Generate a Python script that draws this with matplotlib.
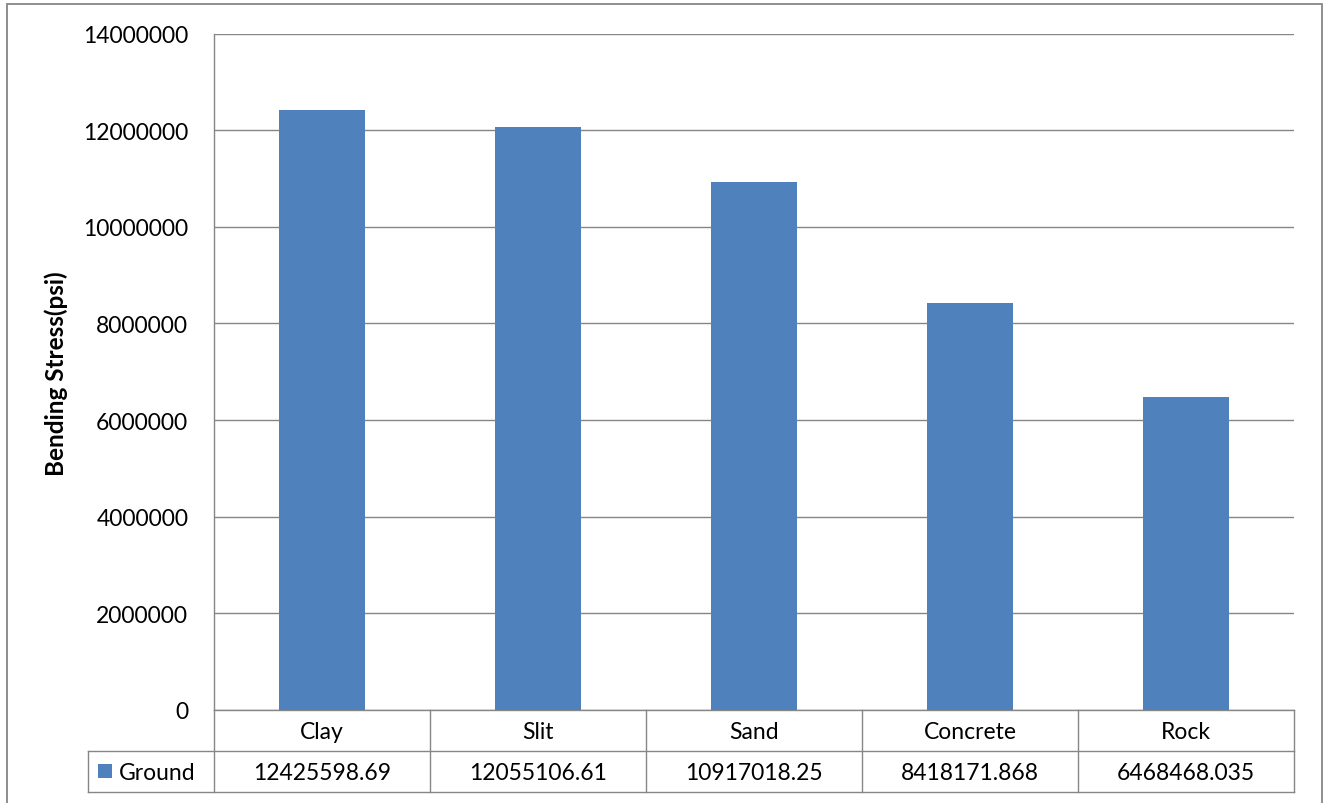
import matplotlib
matplotlib.use("Agg")
import matplotlib.pyplot as plt
from matplotlib.patches import Rectangle
from matplotlib.lines import Line2D
from matplotlib.transforms import blended_transform_factory
import numpy as np

# Bending stress per ground type
categories = ["Clay", "Slit", "Sand", "Concrete", "Rock"]
stress = [12425598.69, 12055106.61, 10917018.25, 8418171.868, 6468468.035]
value_labels = ["12425598.69", "12055106.61", "10917018.25", "8418171.868", "6468468.035"]
series_name = "Ground"
y_ticks = [0, 2000000, 4000000, 6000000, 8000000, 10000000, 12000000, 14000000]

W, H = 1327, 804
DPI = 100
BAR = "#4F81BD"
GRID = "#868686"

plt.rcParams["font.family"] = ["Lato", "DejaVu Sans"]

fig = plt.figure(figsize=(W / DPI, H / DPI), dpi=DPI)

# plot area in pixel units
px_left, px_right, px_top, px_bottom = 214, 1294, 34.5, 711
ax = fig.add_axes([px_left / W, (H - px_bottom) / H,
                   (px_right - px_left) / W, (px_bottom - px_top) / H])

x = np.arange(len(categories))
ax.bar(x, stress, width=0.4, color=BAR, zorder=3)
ax.set_xlim(-0.5, len(categories) - 0.5)
ax.set_ylim(0, 14000000)
ax.set_yticks(y_ticks)
ax.set_yticklabels([str(v) for v in y_ticks], fontsize=16.5)
ax.set_xticks([])
ax.tick_params(axis="y", length=0, pad=18.5)
ax.yaxis.grid(True, color=GRID, linewidth=1.0, zorder=0)
ax.set_axisbelow(True)
for s in ("top", "right"):
    ax.spines[s].set_visible(False)
for s in ("left", "bottom"):
    ax.spines[s].set_color(GRID)
    ax.spines[s].set_linewidth(1.0)

def fy(py):
    return (H - py) / H

tf = fig.transFigure
tr = blended_transform_factory(ax.transData, tf)

# axis title
fig.text(56 / W, fy(374), "Bending Stress(psi)", transform=tf, rotation=90,
         ha="center", va="center", fontsize=17.5, fontweight="bold")

# data table under the plot: x in data units, y in pixels from figure top
row1_top, row1_bot, row2_bot = 711, 752, 793
legend_left = 88

def hline(x0, x1, py, trans):
    fig.add_artist(Line2D([x0, x1], [fy(py), fy(py)], transform=trans,
                          color=GRID, linewidth=1.0))

def vline(xv, py0, py1, trans):
    fig.add_artist(Line2D([xv, xv], [fy(py0), fy(py1)], transform=trans,
                          color=GRID, linewidth=1.0))

# horizontal rules
hline(legend_left / W, px_right / W, row1_bot, tf)
hline(legend_left / W, px_right / W, row2_bot, tf)
# vertical rules between categories
for b in np.arange(-0.5, len(categories), 1.0):
    vline(b, row1_top, row2_bot, tr)
vline(legend_left / W, row1_bot, row2_bot, tf)

for xi, cat, lab in zip(x, categories, value_labels):
    fig.text(xi, fy((row1_top + row1_bot) / 2 + 1), cat, transform=tr,
             ha="center", va="center", fontsize=16.5)
    fig.text(xi, fy((row1_bot + row2_bot) / 2 + 1), lab, transform=tr,
             ha="center", va="center", fontsize=16.5)

# legend key for the series
fig.add_artist(Rectangle((98 / W, fy(779)), 14 / W, 14 / H, transform=tf,
                         facecolor=BAR, edgecolor="none"))
fig.text(119 / W, fy((row1_bot + row2_bot) / 2 + 1), series_name, transform=tf,
         ha="left", va="center", fontsize=16.5)

# chart area border
fig.add_artist(Rectangle((7 / W, fy(820)), (1322 - 7) / W, (820 - 5) / H,
                         transform=tf, facecolor="none", edgecolor=GRID,
                         linewidth=1.3))

fig.savefig("out.png", dpi=DPI)
